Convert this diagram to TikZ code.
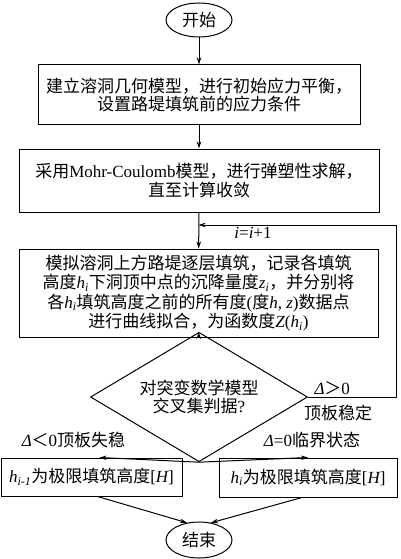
\documentclass[tikz,border=0pt]{standalone}
\usepackage{fontspec}
\setmainfont{Noto Sans CJK SC}
\newfontfamily\lat{Liberation Serif}
\usetikzlibrary{arrows.meta,shapes.geometric}
\newcommand\la[1]{{\lat #1}}
\newcommand\li[1]{{\lat\itshape #1}}
\newcommand\myfs{\fontsize{17}{18.5}\selectfont}
\newcommand\myfsb{\fontsize{17}{19.6}\selectfont}
\begin{document}
\begin{tikzpicture}[x=1pt,y=-1pt,line width=1pt,
  >={Stealth[length=7pt,width=4.5pt]},
  box/.style={draw,rectangle,inner sep=0pt,align=center,font=\myfs},
  term/.style={draw,ellipse,inner sep=0pt,font=\myfs},
  dec/.style={draw,diamond,inner sep=-6pt,align=center,font=\myfs},
  lbl/.style={inner sep=0pt,font=\myfs}]
\fill[white] (0,0) rectangle (400,559);
\useasboundingbox (0,0) rectangle (400,559);

\node[term,minimum width=66pt,minimum height=34pt] (start) at (199,20) {开始};
\node[box,minimum width=322pt,minimum height=60pt] (b1) at (199,95)
  {建立溶洞几何模型，进行初始应力平衡，\\设置路堤填筑前的应力条件};
\node[box,minimum width=360pt,minimum height=63pt] (b2) at (199,180.5)
  {采用\la{Mohr-Coulomb}模型，进行弹塑性求解，\\直至计算收敛};
\node[box,minimum width=359pt,minimum height=88pt,font=\myfsb] (b3) at (198.5,293)
  {模拟溶洞上方路堤逐层填筑，记录各填筑\\
   高度\li{h\textsubscript{i}}下洞顶中点的沉降量度\li{z\textsubscript{i}}，并分别将\\
   各\li{h\textsubscript{i}}填筑高度之前的所有度\la{(}度\li{h}\la{, }\li{z}\la{)}数据点\\
   进行曲线拟合，为函数度\li{Z}\la{(}\li{h\textsubscript{i}}\la{)}};
\node[dec,minimum width=217pt,minimum height=70pt] (d) at (199,397)
  {对突变数学模型\\交叉集判据\la{?}};
\node[box,minimum width=181pt,minimum height=38pt] (l) at (91.5,477)
  {\li{h\textsubscript{i-1}}为极限填筑高度\la{[}\li{H}\la{]}};
\node[box,minimum width=178pt,minimum height=39pt] (r) at (308,477.5)
  {\li{h\textsubscript{i}}为极限填筑高度\la{[}\li{H}\la{]}};
\node[term,minimum width=66pt,minimum height=36pt] (end) at (199,540) {结束};

\coordinate (lp) at (396,225);

\draw[->] (start) -- (b1);
\draw[->] (b1) -- (b2);
\draw[->] (b2) -- (b3);
\draw[->] (b3) -- (d);
\draw[->] (d.south) -- ([xshift=8pt]l.north);
\draw[->] (d.south) -- (r.north);
\draw[->] ([xshift=6pt]l.south) -- (end.125);
\draw[->] ([xshift=-6pt]r.south) -- (end.55);
\draw[->] (d.east) -| (lp) -- (b3.north |- lp);

\node[lbl] (inc) at (253,233) {\li{i}\la{=}\li{i}\la{+1}};
\node[lbl,anchor=west] (gt) at (314,388) {\li{Δ}＞\la{0}};
\node[lbl] (st) at (338,413) {顶板稳定};
\node[lbl] (lt) at (73.5,440) {\li{Δ}＜\la{0}顶板失稳};
\node[lbl] (eq) at (312,440) {\li{Δ}\la{=0}临界状态};
\end{tikzpicture}
\end{document}
